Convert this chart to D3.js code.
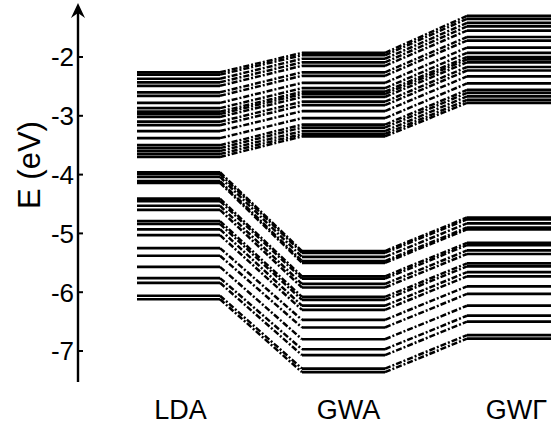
<!DOCTYPE html>
<html>
<head>
<meta charset="utf-8">
<script src="https://cdn.jsdelivr.net/npm/d3@7"></script>
<style>
  body { margin: 0; background: #fff; }
  text { font-family: "Liberation Sans", Arial, sans-serif; fill: #000; }
</style>
</head>
<body>
<div id="chart"></div>
<script>
// chart size
var width = 551;
var height = 429;

// columns (methods)
var methods = ["LDA", "GWA", "GW\u0393"];

// energy levels (eV), one entry per state, same order in each column
var ldaUpper = [-2.26, -2.30, -2.37, -2.43, -2.49, -2.60, -2.66, -2.78, -2.87, -2.93, -2.97, -3.02, -3.10, -3.16, -3.26, -3.38, -3.50, -3.55, -3.60, -3.65, -3.70];
var gwaUpper = [-1.93, -1.97, -2.03, -2.09, -2.15, -2.26, -2.32, -2.44, -2.53, -2.59, -2.63, -2.68, -2.76, -2.82, -2.92, -3.04, -3.15, -3.20, -3.26, -3.31, -3.35];
var gwgUpper = [-1.30, -1.35, -1.42, -1.48, -1.55, -1.66, -1.72, -1.84, -1.93, -2.00, -2.04, -2.09, -2.17, -2.23, -2.33, -2.45, -2.56, -2.61, -2.67, -2.73, -2.78];

var ldaLower = [-3.96, -3.99, -4.04, -4.11, -4.14, -4.41, -4.45, -4.53, -4.60, -4.79, -4.84, -4.93, -5.03, -5.25, -5.38, -5.57, -5.76, -5.84, -6.06, -6.12];
var gwaLower = [-5.30, -5.33, -5.40, -5.47, -5.50, -5.73, -5.77, -5.86, -5.92, -6.08, -6.13, -6.23, -6.30, -6.47, -6.60, -6.80, -6.97, -7.07, -7.30, -7.36];
var gwgLower = [-4.73, -4.76, -4.83, -4.90, -4.93, -5.16, -5.20, -5.29, -5.35, -5.51, -5.56, -5.66, -5.73, -5.90, -6.03, -6.23, -6.40, -6.50, -6.73, -6.79];

// y ticks
var yTicks = [-2, -3, -4, -5, -6, -7];

var levelWidth = 83;

var y = d3.scaleLinear().domain([-2, -7]).range([57, 351]);
var x = d3.scaleLinear().domain([0, 2]).range([137, 467]); // left edge of each column

var svg = d3.select("#chart")
  .append("svg")
  .attr("width", width)
  .attr("height", height);

// build states: each is [E_lda, E_gwa, E_gwg]
var states = [];
ldaUpper.forEach(function(d, i) { states.push([d, gwaUpper[i], gwgUpper[i]]); });
ldaLower.forEach(function(d, i) { states.push([d, gwaLower[i], gwgLower[i]]); });

// horizontal level lines
var levels = svg.append("g");
states.forEach(function(s) {
  s.forEach(function(e, j) {
    levels.append("line")
      .attr("x1", x(j))
      .attr("x2", x(j) + levelWidth + (j == 2 ? 20 : 0))
      .attr("y1", y(e))
      .attr("y2", y(e))
      .attr("stroke", "#000")
      .attr("stroke-width", 2.7);
  });
});

// dash-dot connectors between columns
var connectors = svg.append("g");
states.forEach(function(s) {
  for (var j = 0; j < 2; j++) {
    connectors.append("line")
      .attr("x1", x(j) + levelWidth)
      .attr("x2", x(j + 1))
      .attr("y1", y(s[j]))
      .attr("y2", y(s[j + 1]))
      .attr("stroke", "#000")
      .attr("stroke-width", 2.5)
      .attr("stroke-dasharray", "6,2,2,2");
  }
});

// y axis with arrow
var axisX = 78;
svg.append("line")
  .attr("x1", axisX).attr("x2", axisX)
  .attr("y1", 382).attr("y2", 12)
  .attr("stroke", "#000")
  .attr("stroke-width", 2.4);

svg.append("path")
  .attr("d", "M" + axisX + ",3 L" + (axisX - 7) + ",18 L" + axisX + ",13 L" + (axisX + 7) + ",18 Z")
  .attr("fill", "#000");

var ticks = svg.append("g");
yTicks.forEach(function(t) {
  ticks.append("line")
    .attr("x1", axisX).attr("x2", axisX + 5)
    .attr("y1", y(t)).attr("y2", y(t))
    .attr("stroke", "#000")
    .attr("stroke-width", 2);
  ticks.append("text")
    .attr("x", axisX - 4)
    .attr("y", y(t))
    .attr("dy", "0.36em")
    .attr("text-anchor", "end")
    .style("font-size", "26px")
    .text(t);
});

// axis title
svg.append("text")
  .attr("transform", "translate(40,165) rotate(-90)")
  .attr("text-anchor", "middle")
  .style("font-size", "31px")
  .text("E (eV)");

// column labels
methods.forEach(function(m, j) {
  svg.append("text")
    .attr("x", x(j) + levelWidth / 2 + 2 + j * 3)
    .attr("y", 419)
    .attr("text-anchor", "middle")
    .style("font-size", "27px")
    .text(m);
});
</script>
</body>
</html>
